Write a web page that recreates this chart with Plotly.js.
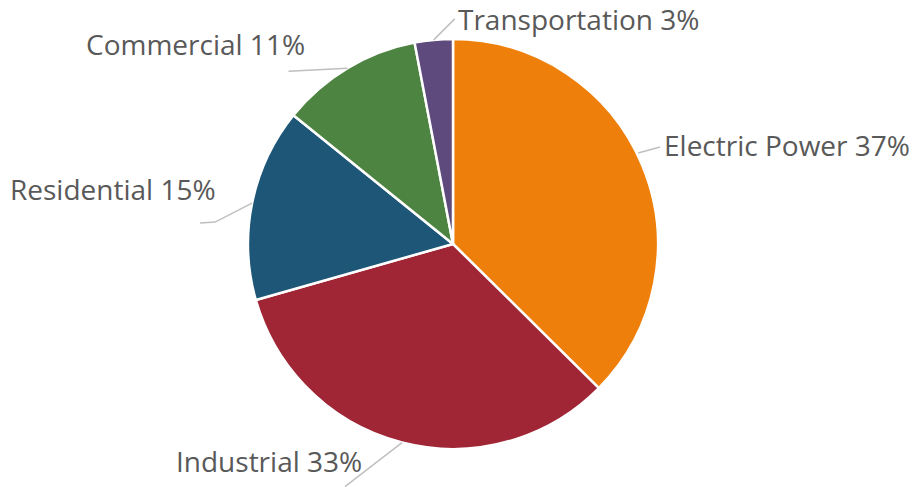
<!DOCTYPE html>
<html>
<head>
<meta charset="utf-8">
<script src="https://cdn.plot.ly/plotly-3.0.1.min.js"></script>
<style>html,body{margin:0;padding:0;background:#fff;}#chart{width:914px;height:487px;}</style>
</head>
<body>
<div id="chart"></div>
<script>
// ---- data ----
const labels = ["Electric Power", "Industrial", "Residential", "Commercial", "Transportation"];
const values = [37.4, 33.2, 15.2, 11.2, 3.0];
const colors = ["#EF7F0B", "#A02535", "#1E5678", "#4E8442", "#5E4A7C"];

// ---- layout / styling ----
const W = 914, H = 487;
const CX = 453, CY = 244, R = 205;
// per-label leader-line points and text offset (pixels from slice edge midpoint)
const labelStyle = [
  {line: [[-4, -12], [18, -18]], text: [20, -20], anchor: "left"},
  {line: [[0, 0], [-57, 44]], text: [-38, 18], anchor: "right"},
  {line: [[0, 0], [-37, 19], [-52, 20]], text: [-34, -14], anchor: "right"},
  {line: [[0, 0], [-59, 3]], text: [-41, -24], anchor: "right"},
  {line: [[0, 0], [21, -21]], text: [22, -21], anchor: "left"}
];

const total = values.reduce((a, b) => a + b, 0);
const shapes = [], annotations = [];
let cum = 0;
values.forEach((v, i) => {
  const mid = (cum + v / 2) / total * 2 * Math.PI;
  cum += v;
  const hx = CX + R * Math.sin(mid), hy = CY - R * Math.cos(mid);
  const st = labelStyle[i];
  const path = st.line.map((p, k) => (k ? "L" : "M") + (hx + p[0]).toFixed(1) + "," + (H - (hy + p[1])).toFixed(1)).join(" ");
  shapes.push({type: "path", xref: "x", yref: "y", path: path,
    line: {color: "#BFBFBF", width: 1.5}});
  annotations.push({xref: "x", yref: "y", showarrow: false,
    x: hx + st.text[0], y: H - (hy + st.text[1]),
    xanchor: st.anchor, yanchor: "middle",
    text: labels[i] + " " + Math.round(v / total * 100) + "%",
    font: {family: "Open Sans, sans-serif", size: 28, color: "#595959"}});
});

const data = [{
  type: "pie",
  labels: labels,
  values: values,
  sort: false,
  direction: "clockwise",
  rotation: 0,
  textinfo: "none",
  hoverinfo: "label+percent",
  marker: {colors: colors, line: {color: "#FFFFFF", width: 2.5}},
  domain: {x: [(CX - R) / W, (CX + R) / W], y: [(H - CY - R) / H, (H - CY + R) / H]}
}];

const layout = {
  width: W, height: H,
  margin: {l: 0, r: 0, t: 0, b: 0},
  showlegend: false,
  paper_bgcolor: "#FFFFFF",
  plot_bgcolor: "rgba(0,0,0,0)",
  xaxis: {range: [0, W], visible: false, fixedrange: true},
  yaxis: {range: [0, H], visible: false, fixedrange: true},
  shapes: shapes,
  annotations: annotations
};

Plotly.newPlot("chart", data, layout, {displayModeBar: false, staticPlot: true});
</script>
</body>
</html>
